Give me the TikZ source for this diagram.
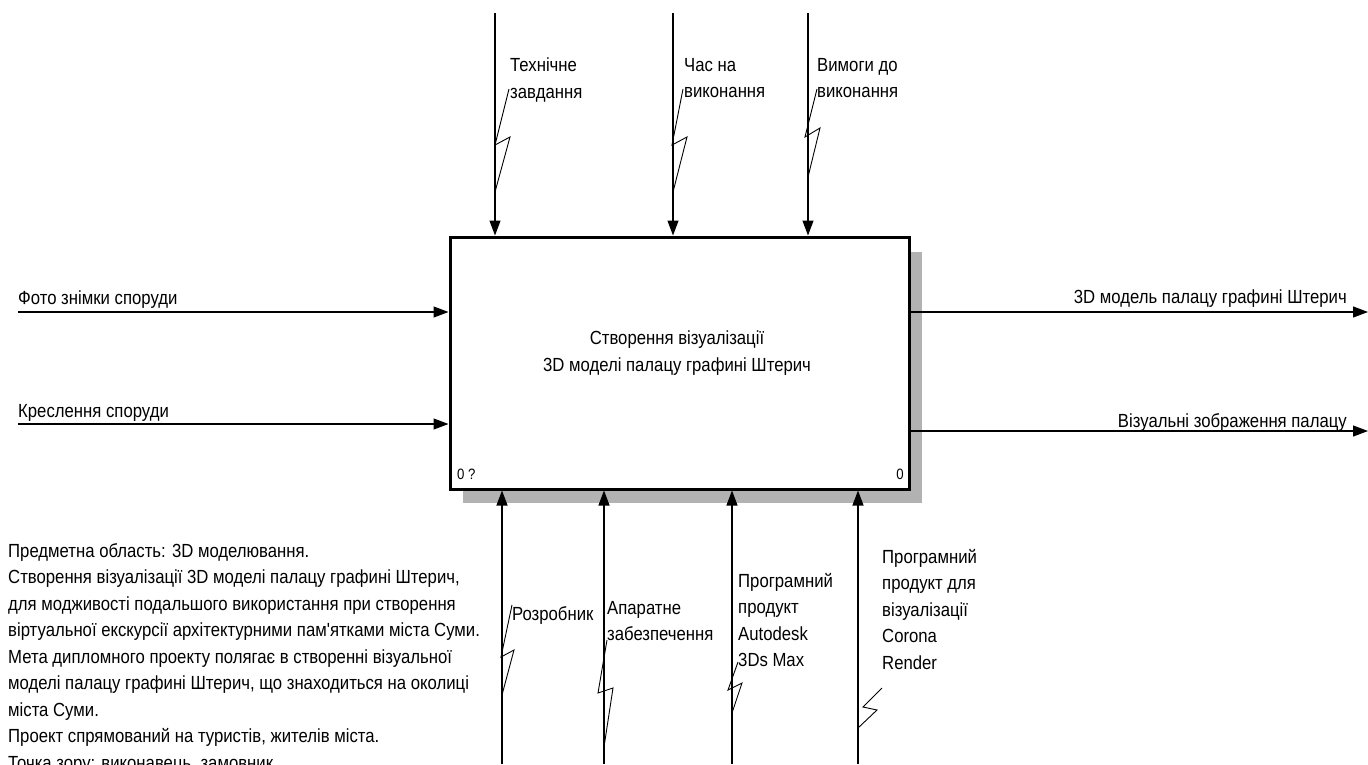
\documentclass[tikz,border=0pt]{standalone}
\usepackage{fontspec}
\setmainfont{Liberation Sans}[FakeStretch=0.88, Ligatures=TeXOff]
\usetikzlibrary{arrows.meta}
\begin{document}
\begin{tikzpicture}[x=1pt,y=-1pt,
  lbl/.style={font=\fontsize{19}{26.5}\selectfont, inner sep=0pt, align=left},
  small/.style={font=\fontsize{15}{17}\selectfont, inner sep=0pt},
  arr/.style={line width=1.2pt, -{Triangle[length=15pt,width=11pt]}},
  squig/.style={line width=0.9pt},
  procbox/.style={draw, line width=3pt, fill=white, minimum width=459pt, minimum height=252pt, inner sep=0pt}]
\useasboundingbox (0,0) rectangle (1368,764);
\fill[white] (0,0) rectangle (1368,764);
% shadow
\fill[gray!60] (463,252) rectangle (922,503);
% process box
\node[procbox] (box) at (679.5,363) {};
\node[lbl, align=center, anchor=north] (title) at (677,331) {Створення візуалізації\\3D моделі палацу графині Штерич};
\node[small, anchor=west] (num0q) at (457,474) {0 ?};
\node[small, anchor=east] (num0) at (904,474) {0};

% controls (top)
\coordinate (tc1) at (495,13);
\coordinate (tc2) at (673,13);
\coordinate (tc3) at (808,13);
\draw[arr] (tc1) -- (tc1 |- box.north);
\draw[arr] (tc2) -- (tc2 |- box.north);
\draw[arr] (tc3) -- (tc3 |- box.north);
\node[lbl, anchor=north west] (lt1) at (510,58) {Технічне\\завдання};
\node[lbl, anchor=north west] (lt2) at (684,58) {Час на\\виконання};
\node[lbl, anchor=north west] (lt3) at (817,58) {Вимоги до\\виконання};
\draw[squig] (509,89) -- (495,145) -- (510,137) -- (495,192);
\draw[squig] (683,89) -- (672,145) -- (687,137) -- (673,192);
\draw[squig] (817,89) -- (805,137) -- (820,128) -- (808,177);

% inputs (left)
\coordinate (in1) at (18,312);
\coordinate (in2) at (18,424);
\draw[arr] (in1) -- (in1 -| box.west);
\draw[arr] (in2) -- (in2 -| box.west);
\node[lbl, anchor=base west] (li1) at (18,304) {Фото знімки споруди};
\node[lbl, anchor=base west] (li2) at (18,417) {Креслення споруди};

% outputs (right)
\coordinate (out1) at (1368,312);
\coordinate (out2) at (1368,431);
\draw[arr] (out1 -| box.east) -- (out1);
\draw[arr] (out2 -| box.east) -- (out2);
\node[lbl, anchor=base east] (lo1) at (1347,303) {3D модель палацу графині Штерич};
\node[lbl, anchor=base east] (lo2) at (1347,427) {Візуальні зображення палацу};

% mechanisms (bottom)
\coordinate (m1) at (502,764);
\coordinate (m2) at (604,764);
\coordinate (m3) at (732,764);
\coordinate (m4) at (858,764);
\draw[arr] (m1) -- (m1 |- box.south);
\draw[arr] (m2) -- (m2 |- box.south);
\draw[arr] (m3) -- (m3 |- box.south);
\draw[arr] (m4) -- (m4 |- box.south);
\node[lbl, anchor=north west] (lm1) at (512,606) {Розробник};
\node[lbl, anchor=north west] (lm2) at (607,601) {Апаратне\\забезпечення};
\node[lbl, anchor=north west] (lm3) at (738,573) {Програмний\\продукт\\Autodesk\\3Ds Max};
\node[lbl, anchor=north west] (lm4) at (882,549) {Програмний\\продукт для\\візуалізації\\Corona\\Render};
\draw[squig] (512,605) -- (501,657) -- (514,650) -- (502,695);
\draw[squig] (607,640) -- (598,693) -- (613,688) -- (604,747);
\draw[squig] (738,662) -- (728,690) -- (742,683) -- (732,713);
\draw[squig] (882,688) -- (863,707) -- (877,710) -- (858,728);

% description
\node[lbl, anchor=north west] (desc) at (8,543) {Предметна область: 3D моделювання.\\
Створення візуалізації 3D моделі палацу графині Штерич,\\
для модживості подальшого використання при створення\\
віртуальної екскурсії архітектурними пам'ятками міста Суми.\\
Мета дипломного проекту полягає в створенні візуальної\\
моделі палацу графині Штерич, що знаходиться на околиці\\
міста Суми.\\
Проект спрямований на туристів, жителів міста.\\
Точка зору: виконавець, замовник.};
\end{tikzpicture}
\end{document}
